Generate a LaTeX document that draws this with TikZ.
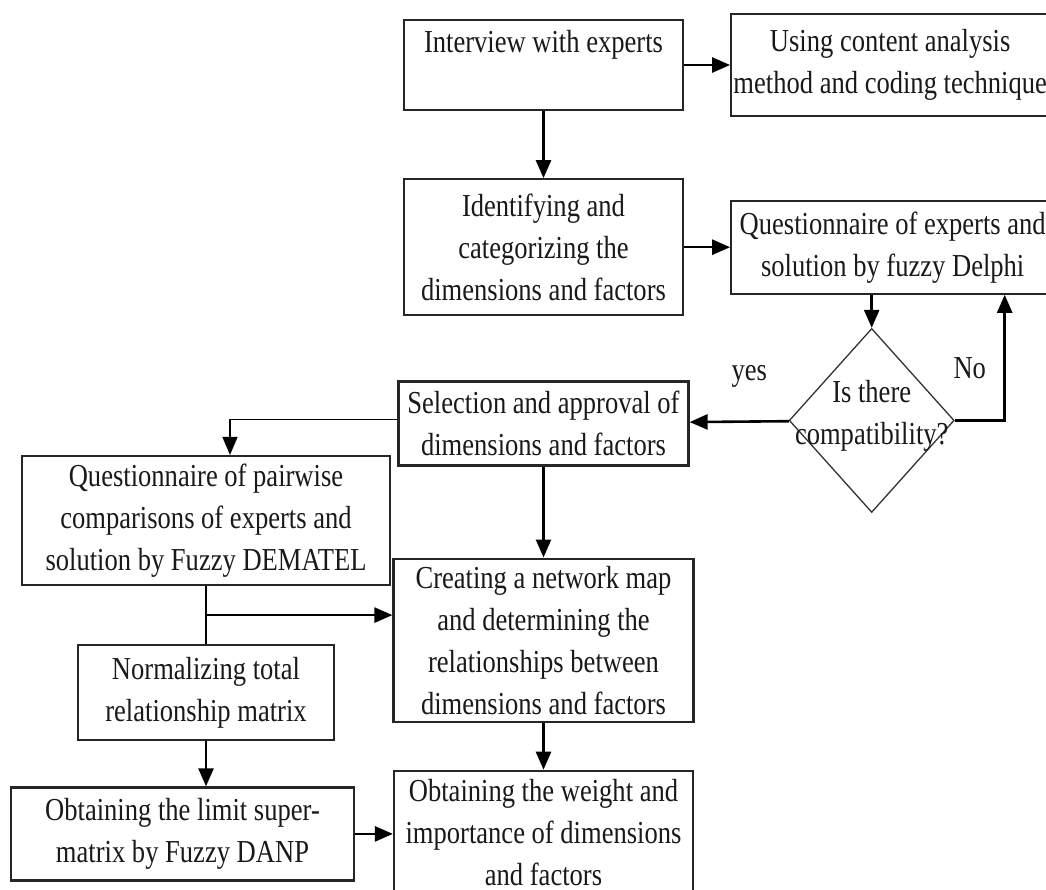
\documentclass[tikz,border=0pt]{standalone}
\usepackage{fontspec}
\setmainfont{Liberation Serif}[FakeStretch=0.83]
\usetikzlibrary{positioning, shapes.geometric, arrows.meta}
\tikzset{%
  box/.style={draw=black!85, line width=2.2pt, align=center, inner xsep=2pt, inner ysep=2pt, text=black!90}, % process steps
  decision/.style={draw=black!80, diamond, line width=1.3pt, inner sep=0pt, minimum width=165pt, minimum height=184pt},
  lbl/.style={text=black!90},
  flow/.style={-{Triangle[length=18pt,width=15pt]}, line width=2.6pt},
  every edge/.style={%
    draw, -{Triangle[length=18pt,width=15pt]}, line width=2.6pt
  }
}

\begin{document}
\begin{tikzpicture}[x=1pt, y=-1pt, node distance=46pt, font=\fontsize{32}{42}\selectfont]
    \useasboundingbox (0,0) rectangle (1046,890);
    \clip (0,0) rectangle (1046,890); % right and bottom boxes run off the page

    \node[box, minimum width=279pt, minimum height=90pt, text depth=47pt] (interview) at (543.5,65) {Interview with experts};
    \node[box, minimum width=318pt, minimum height=102pt, right=of interview] (content) {Using content analysis\\method and coding technique};
    \node[box, minimum width=279pt, minimum height=136pt, below=67pt of interview] (identify) {Identifying and\\categorizing the\\dimensions and factors};
    \node[box, minimum width=323pt, minimum height=93pt, right=of identify] (delphi) {Questionnaire of experts and\\solution by fuzzy Delphi};
    \node[decision, below=33pt of delphi, xshift=-21pt] (compat) {};
    \node[lbl, align=center, yshift=5pt] (compattext) at (compat) {Is there\\compatibility?};
    \node[box, minimum width=290pt, minimum height=84pt, below=64pt of identify] (select) {Selection and approval of\\dimensions and factors};
    \node[box, minimum width=368pt, minimum height=129pt] (dematel) at (206,520.5) {Questionnaire of pairwise\\comparisons of experts and\\solution by Fuzzy DEMATEL};
    \node[box, minimum width=300pt, minimum height=163pt, below=91pt of select] (network) {Creating a network map\\and determining the\\relationships between\\dimensions and factors};
    \node[box, minimum width=256pt, minimum height=95pt, below=58pt of dematel] (normalize) {Normalizing total\\relationship matrix};
    \node[box, minimum width=343pt, minimum height=93pt, below=45pt of normalize, xshift=-23.5pt] (limit) {Obtaining the limit super-\\matrix by Fuzzy DANP};
    \node[box, minimum width=299pt, minimum height=124pt, below=47pt of network] (weight) {Obtaining the weight and\\importance of dimensions\\and factors};
    \coordinate[below=29pt of dematel.south] (branch);

    \draw (interview) edge (content);
    \draw (interview) edge (identify);
    \draw (identify) edge (delphi);
    \draw[line width=1.8pt] (compat.north |- delphi.south) edge (compat.north);
    \draw[flow] (compat.east) -| node[lbl, pos=0.25, above=37pt, xshift=-10pt] (no) {No} ([xshift=112pt]delphi.south);
    \draw (compat) edge node[lbl, pos=0.4, above=30pt] (yes) {yes} (select);

    \draw[flow, line width=1.5pt] ([yshift=4pt]select.west) -| ([xshift=24pt]dematel.north);
    \draw (select) edge (network);
    \draw[line width=2.2pt] (dematel.south) -- (normalize.north);
    \draw[flow] (branch) -- (branch -| network.west);
    \draw (normalize.south) edge (normalize.south |- limit.north);
    \draw (network) edge (weight);
    \draw (limit.east) edge (limit.east -| weight.west);
\end{tikzpicture}
\end{document}
